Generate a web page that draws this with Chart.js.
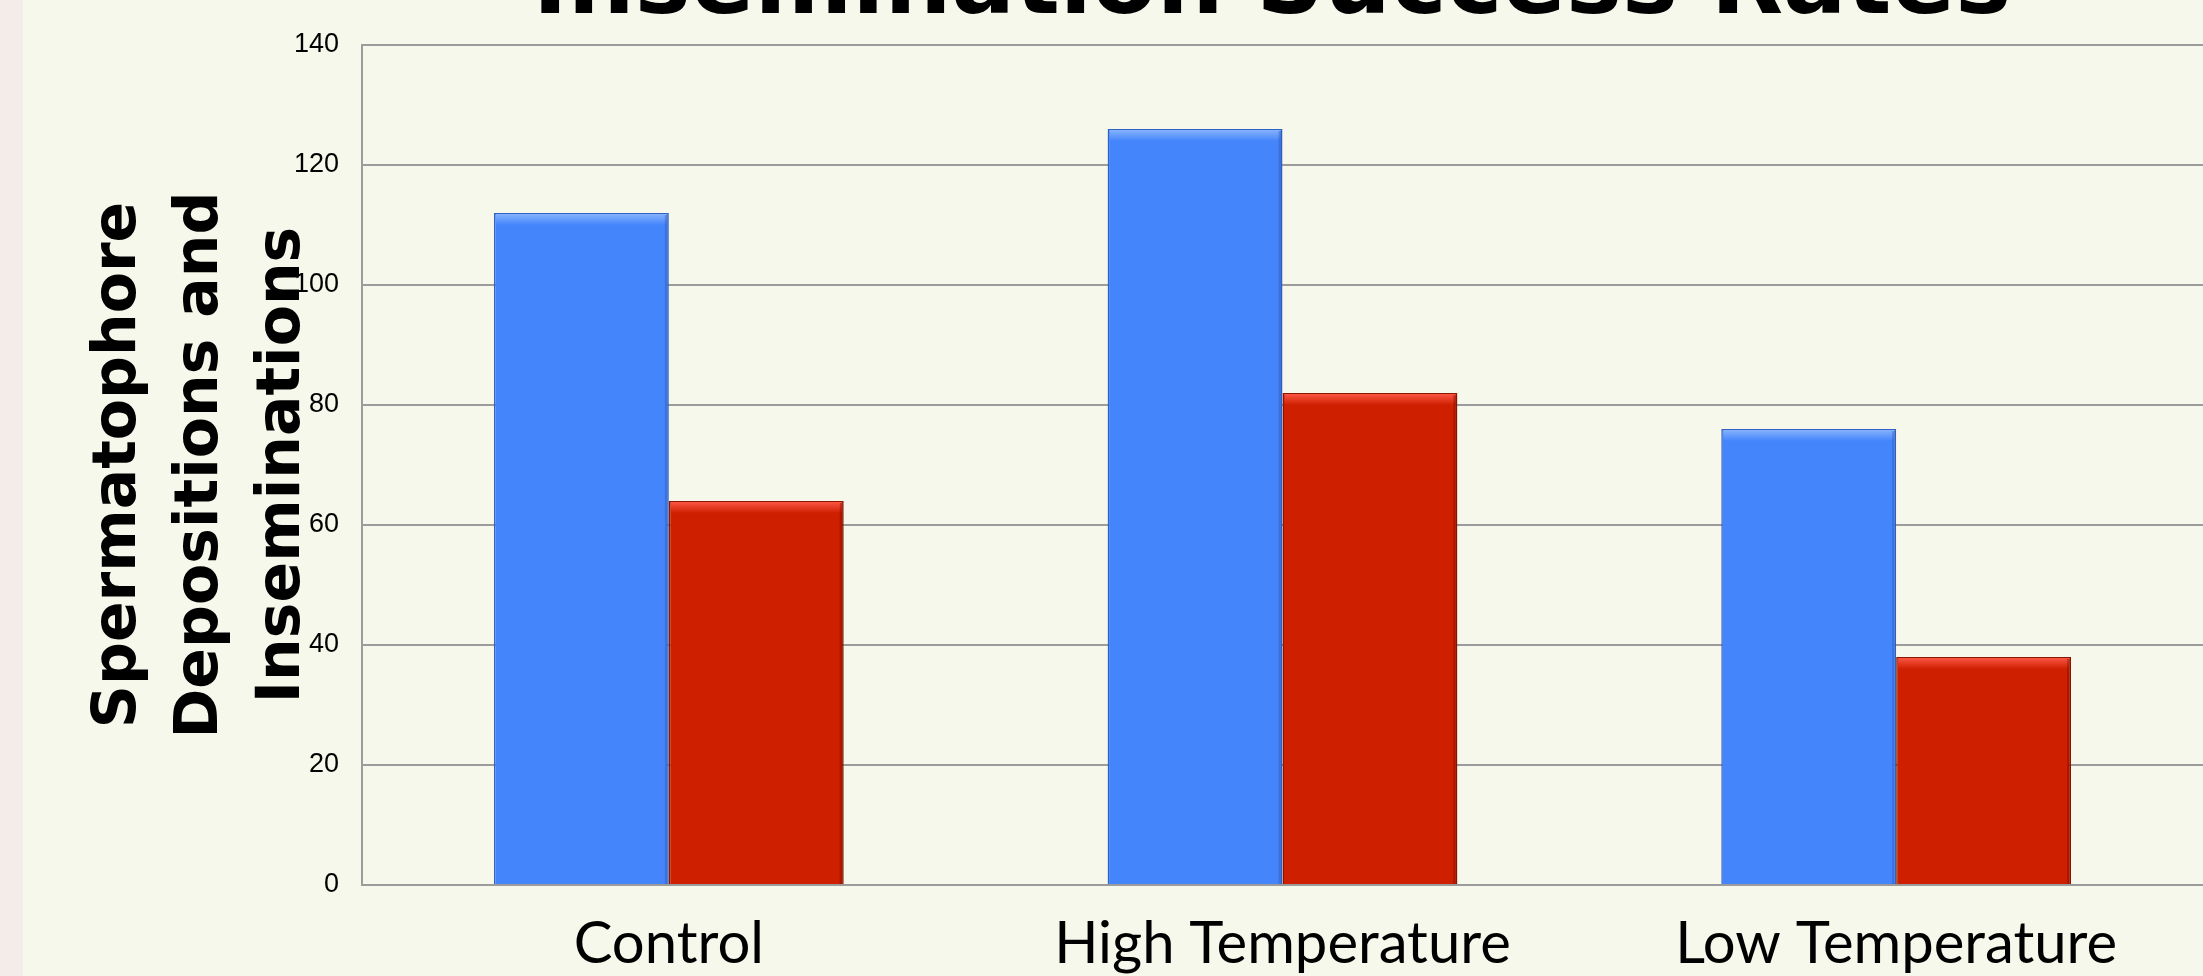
<!DOCTYPE html>
<html>
<head>
<meta charset="utf-8">
<script src="https://cdn.jsdelivr.net/npm/chart.js@4.4.1/dist/chart.umd.min.js"></script>
<style>
    html, body { margin: 0; padding: 0; overflow: hidden; background: #f5f8ea; }
    #franja { position: absolute; left: 0; top: 0; width: 23px; height: 976px; background: #f4ece8; }
    #contenedor { position: absolute; left: 0; top: 0; width: 2203px; height: 976px; }
    #titulo {
        position: absolute; left: 0; top: -66px; width: 2544px;
        text-align: center; font: bold 94px "DejaVu Sans"; line-height: 94px; color: #000;
    }
</style>
</head>
<body>
<div id="franja"></div>
<div id="contenedor"><canvas id="grafico"></canvas></div>
<div id="titulo">Insemination Success Rates</div>
<script>
const categorias = ['Control', 'High Temperature', 'Low Temperature'];
const deposiciones = [112, 126, 76];
const inseminaciones = [64, 82, 38];
const ticksY = { min: 0, max: 140, paso: 20 };

// franja clara arriba de cada barra, como el bisel del original
const bisel = {
    id: 'bisel',
    afterDatasetsDraw(chart) {
        const ctx = chart.ctx;
        chart.data.datasets.forEach((ds, i) => {
            chart.getDatasetMeta(i).data.forEach(bar => {
                const izq = bar.x - bar.width / 2;
                const alto = Math.min(12, bar.base - bar.y);
                const grad = ctx.createLinearGradient(0, bar.y, 0, bar.y + alto);
                grad.addColorStop(0, ds.brillo);
                grad.addColorStop(1, ds.backgroundColor);
                ctx.save();
                ctx.fillStyle = grad;
                ctx.fillRect(izq + 2, bar.y + 1, bar.width - 4, alto);
                ctx.fillStyle = ds.sombra;
                ctx.fillRect(bar.x + bar.width / 2 - 4, bar.y + 2, 3, bar.base - bar.y - 2);
                ctx.restore();
            });
        });
    }
};

new Chart(document.getElementById('grafico'), {
    type: 'bar',
    data: {
        labels: categorias,
        datasets: [{
            label: 'Spermatophore Depositions',
            data: deposiciones,
            backgroundColor: '#4585fb',
            borderColor: '#3062c4',
            brillo: '#8cb6fd',
            sombra: 'rgba(40,80,170,0.35)',
            borderWidth: 1.5
        }, {
            label: 'Inseminations',
            data: inseminaciones,
            backgroundColor: '#ce1f00',
            borderColor: '#8c1500',
            brillo: '#ff5a4a',
            sombra: 'rgba(110,10,0,0.35)',
            borderWidth: 1.5
        }]
    },
    options: {
        responsive: true,
        maintainAspectRatio: false,
        animation: false,
        layout: { padding: { top: 45, left: 0, right: 0, bottom: 0 } },
        datasets: { bar: { categoryPercentage: 0.57, barPercentage: 1 } },
        plugins: { legend: { display: false }, tooltip: { enabled: false } },
        scales: {
            x: {
                grid: { display: false, drawTicks: false },
                border: { color: '#9c9c9c', width: 2 },
                ticks: { color: '#000', padding: 24, font: { family: 'Lato', size: 58 } },
                afterFit(scale) { scale.height = 91; }
            },
            y: {
                min: ticksY.min,
                max: ticksY.max,
                ticks: {
                    stepSize: ticksY.paso,
                    color: '#000',
                    padding: 23,
                    font: { family: 'Liberation Sans', size: 27 }
                },
                grid: { color: '#9c9c9c', lineWidth: 2, drawTicks: false },
                border: { color: '#9c9c9c', width: 2 },
                title: {
                    display: true,
                    text: ['Spermatophore', 'Depositions and', 'Inseminations'],
                    color: '#000',
                    font: { family: 'DejaVu Sans', size: 60, weight: 'bold', lineHeight: 1.367 },
                    padding: { top: 78, bottom: 0 }
                },
                afterFit(scale) { scale.width = 362; }
            }
        }
    },
    plugins: [bisel]
});
</script>
</body>
</html>
